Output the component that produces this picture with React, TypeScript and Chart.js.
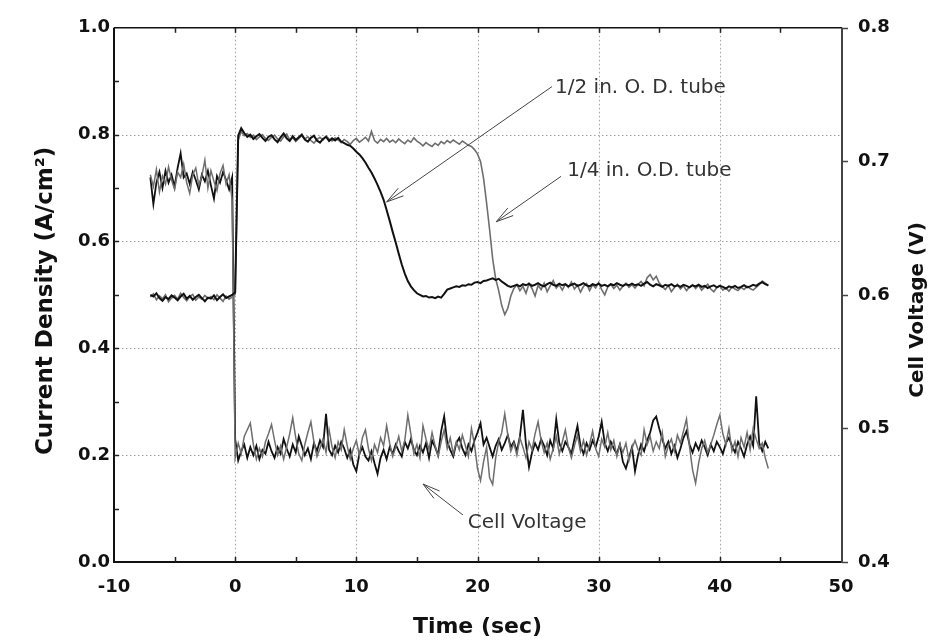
import React, { useEffect, useRef } from "react";
import { Chart, registerables } from "chart.js";

Chart.register(...registerables);

// sampling grid of the recorded traces (seconds)
const TIME_START = -7;
const TIME_STEP = 0.25;

// Current density, 1/2 in. O.D. tube (A/cm2) – black
const currentHalfInch = [
  0.500, 0.497, 0.503, 0.494, 0.489, 0.496, 0.492, 0.499, 0.495, 0.490,
  0.497, 0.502, 0.493, 0.498, 0.491, 0.496, 0.500, 0.494, 0.488, 0.495,
  0.493, 0.499, 0.490, 0.496, 0.501, 0.494, 0.497, 0.500, 0.505, 0.798,
  0.812, 0.803, 0.796, 0.800, 0.792, 0.797, 0.801, 0.794, 0.788, 0.796,
  0.799, 0.791, 0.786, 0.795, 0.802, 0.793, 0.788, 0.797, 0.790, 0.795,
  0.800, 0.791, 0.787, 0.794, 0.798, 0.789, 0.785, 0.792, 0.796, 0.788,
  0.793, 0.789, 0.794, 0.787, 0.784, 0.781, 0.779, 0.774, 0.768, 0.763,
  0.756, 0.748, 0.738, 0.729, 0.718, 0.706, 0.693, 0.678, 0.659, 0.639,
  0.618, 0.598, 0.577, 0.557, 0.540, 0.526, 0.516, 0.509, 0.503, 0.500,
  0.497, 0.498, 0.495, 0.496, 0.494, 0.497, 0.495, 0.502, 0.510, 0.512,
  0.514, 0.516, 0.515, 0.518, 0.517, 0.520, 0.519, 0.523, 0.524, 0.522,
  0.526, 0.527, 0.529, 0.531, 0.528, 0.530, 0.525, 0.521, 0.517, 0.515,
  0.517, 0.519, 0.516, 0.520, 0.518, 0.521, 0.517, 0.519, 0.522, 0.518,
  0.516, 0.520, 0.523, 0.519, 0.517, 0.521, 0.518, 0.520, 0.516, 0.519,
  0.521, 0.517, 0.519, 0.522, 0.518, 0.516, 0.520, 0.518, 0.521, 0.517,
  0.519, 0.516, 0.520, 0.518, 0.522, 0.519, 0.517, 0.520, 0.518, 0.521,
  0.518, 0.520, 0.517, 0.521, 0.524, 0.519, 0.516, 0.520, 0.518, 0.515,
  0.519, 0.517, 0.520, 0.516, 0.518, 0.515, 0.519, 0.517, 0.514, 0.518,
  0.516, 0.519, 0.515, 0.517, 0.513, 0.516, 0.518, 0.514, 0.517, 0.515,
  0.512, 0.516, 0.514, 0.517, 0.513, 0.515, 0.518, 0.514, 0.516, 0.519,
  0.517, 0.521, 0.524, 0.520, 0.518,
];

// Current density, 1/4 in. O.D. tube (A/cm2) – gray
const currentQuarterInch = [
  0.496, 0.502, 0.491, 0.498, 0.493, 0.500, 0.487, 0.494, 0.499, 0.492,
  0.503, 0.495, 0.489, 0.497, 0.501, 0.490, 0.496, 0.492, 0.499, 0.493,
  0.497, 0.491, 0.500, 0.494, 0.488, 0.498, 0.492, 0.496, 0.501, 0.790,
  0.806, 0.798, 0.802, 0.795, 0.799, 0.791, 0.796, 0.800, 0.793, 0.789,
  0.795, 0.799, 0.792, 0.788, 0.796, 0.801, 0.790, 0.794, 0.787, 0.793,
  0.798, 0.792, 0.796, 0.789, 0.784, 0.791, 0.795, 0.790, 0.797, 0.792,
  0.788, 0.794, 0.790, 0.785, 0.791, 0.787, 0.782, 0.789, 0.793, 0.786,
  0.790, 0.795, 0.788, 0.806, 0.789, 0.784, 0.791, 0.787, 0.793, 0.786,
  0.790, 0.785, 0.792, 0.787, 0.783, 0.790, 0.786, 0.794, 0.788, 0.784,
  0.779, 0.785, 0.781, 0.778, 0.784, 0.780, 0.787, 0.783, 0.789, 0.785,
  0.790, 0.786, 0.782, 0.788, 0.784, 0.780, 0.778, 0.772, 0.764, 0.750,
  0.718, 0.672, 0.622, 0.568, 0.530, 0.508, 0.480, 0.463, 0.475, 0.498,
  0.512, 0.519, 0.508, 0.516, 0.503, 0.521, 0.512, 0.498, 0.518, 0.510,
  0.522, 0.506, 0.517, 0.527, 0.513, 0.519, 0.509, 0.520, 0.514, 0.524,
  0.511, 0.518, 0.505, 0.516, 0.521, 0.508, 0.519, 0.513, 0.523, 0.510,
  0.500, 0.515, 0.520, 0.512, 0.518, 0.509, 0.516, 0.522, 0.514, 0.519,
  0.513, 0.520, 0.525, 0.517, 0.532, 0.538, 0.528, 0.535, 0.522, 0.516,
  0.510, 0.518, 0.506, 0.514, 0.520, 0.511, 0.517, 0.508, 0.515, 0.519,
  0.512, 0.518, 0.509, 0.515, 0.520, 0.511, 0.506, 0.514, 0.517, 0.509,
  0.513, 0.507, 0.515, 0.511, 0.508, 0.514, 0.510, 0.516, 0.512, 0.509,
  0.514, 0.519, 0.526, 0.522, 0.517,
];

// Cell voltage (V) – black trace
const voltageBlack = [
  0.688, 0.668, 0.684, 0.692, 0.680, 0.693, 0.684, 0.690, 0.681, 0.695,
  0.706, 0.688, 0.691, 0.683, 0.692, 0.686, 0.679, 0.690, 0.685, 0.693,
  0.682, 0.672, 0.689, 0.684, 0.692, 0.686, 0.679, 0.688, 0.492, 0.476,
  0.483, 0.488, 0.478, 0.486, 0.480, 0.487, 0.477, 0.484, 0.481, 0.490,
  0.483, 0.478, 0.486, 0.481, 0.492, 0.485, 0.479, 0.488, 0.482, 0.494,
  0.487, 0.480, 0.485, 0.477, 0.489, 0.483, 0.491, 0.486, 0.511, 0.484,
  0.480, 0.487, 0.482, 0.490, 0.485, 0.478, 0.484, 0.473, 0.468, 0.481,
  0.486, 0.479, 0.476, 0.483, 0.474, 0.466, 0.478, 0.484, 0.477, 0.486,
  0.481, 0.488, 0.483, 0.479, 0.490, 0.485, 0.492, 0.484, 0.480, 0.487,
  0.482, 0.489, 0.478, 0.491, 0.486, 0.480, 0.498, 0.509, 0.490, 0.484,
  0.479, 0.489, 0.493, 0.485, 0.480, 0.488, 0.483, 0.491, 0.497, 0.504,
  0.488, 0.493, 0.486, 0.479, 0.487, 0.492, 0.484, 0.489, 0.495, 0.486,
  0.490, 0.483, 0.494, 0.514, 0.488, 0.471, 0.482, 0.489, 0.484, 0.492,
  0.487, 0.480, 0.491, 0.485, 0.507, 0.489, 0.483, 0.490, 0.486, 0.481,
  0.492, 0.502, 0.487, 0.481, 0.489, 0.484, 0.491, 0.486, 0.494, 0.505,
  0.489, 0.483, 0.490, 0.485, 0.481, 0.488, 0.475, 0.470, 0.478, 0.486,
  0.468, 0.480, 0.488, 0.483, 0.491, 0.497, 0.506, 0.509, 0.500, 0.492,
  0.485, 0.490, 0.481, 0.487, 0.478, 0.485, 0.493, 0.498, 0.488, 0.482,
  0.489, 0.484, 0.491, 0.486, 0.480, 0.488, 0.483, 0.490, 0.486, 0.481,
  0.489, 0.493, 0.487, 0.482, 0.490, 0.485, 0.479, 0.488, 0.494, 0.487,
  0.524, 0.489, 0.483, 0.490, 0.485,
];

// Cell voltage (V) – gray trace
const voltageGray = [
  0.690, 0.681, 0.694, 0.677, 0.689, 0.683, 0.696, 0.686, 0.679, 0.692,
  0.688, 0.698, 0.684, 0.676, 0.690, 0.695, 0.682, 0.689, 0.701, 0.680,
  0.693, 0.685, 0.678, 0.691, 0.697, 0.683, 0.690, 0.671, 0.478, 0.489,
  0.481, 0.494, 0.499, 0.504, 0.488, 0.477, 0.485, 0.479, 0.490, 0.496,
  0.503, 0.491, 0.480, 0.487, 0.477, 0.486, 0.496, 0.508, 0.493, 0.481,
  0.476, 0.488, 0.497, 0.505, 0.490, 0.479, 0.485, 0.492, 0.482, 0.499,
  0.486, 0.478, 0.490, 0.484, 0.499, 0.487, 0.477, 0.485, 0.491, 0.480,
  0.493, 0.499, 0.485, 0.476, 0.488, 0.482, 0.493, 0.487, 0.502, 0.489,
  0.479, 0.486, 0.494, 0.483, 0.491, 0.510, 0.496, 0.481, 0.488, 0.478,
  0.502, 0.492, 0.484, 0.497, 0.487, 0.479, 0.490, 0.499, 0.485, 0.493,
  0.481, 0.490, 0.484, 0.495, 0.487, 0.479, 0.500, 0.488, 0.470, 0.461,
  0.475, 0.486, 0.463, 0.458, 0.478, 0.490, 0.497, 0.511, 0.495, 0.483,
  0.489, 0.480, 0.493, 0.486, 0.478, 0.490, 0.484, 0.496, 0.505, 0.491,
  0.482, 0.489, 0.477, 0.485, 0.494, 0.481, 0.490, 0.499, 0.486, 0.478,
  0.487, 0.495, 0.483, 0.491, 0.480, 0.488, 0.498, 0.485, 0.479, 0.492,
  0.486, 0.497, 0.484, 0.491, 0.479, 0.488, 0.482, 0.489, 0.476, 0.485,
  0.491, 0.484, 0.480, 0.499, 0.488, 0.494, 0.483, 0.490, 0.485, 0.497,
  0.479, 0.487, 0.492, 0.483, 0.495, 0.489, 0.498, 0.507, 0.486, 0.469,
  0.459, 0.474, 0.485, 0.491, 0.482, 0.488, 0.495, 0.503, 0.510, 0.496,
  0.488, 0.500, 0.483, 0.490, 0.479, 0.493, 0.486, 0.497, 0.484, 0.500,
  0.492, 0.485, 0.489, 0.478, 0.470,
];

// axis furniture
const xGridValues = [0, 10, 20, 30, 40];
const yGridValues = [0.2, 0.4, 0.6, 0.8];
const xMinorTicks = [-5, 0, 5, 10, 15, 20, 25, 30, 35, 40, 45];
const yMinorTicks = [0.1, 0.2, 0.3, 0.4, 0.5, 0.6, 0.7, 0.8, 0.9];
const y1Ticks = [0.4, 0.5, 0.6, 0.7, 0.8];

const xTitle = "Time (sec)";
const yTitle = "Current Density (A/cm²)";
const y1Title = "Cell Voltage (V)";

// callouts (positions in data units of x / left y axis)
const calloutLabels = ["1/2 in. O. D. tube", "1/4 in. O.D. tube", "Cell Voltage"];
const calloutTextX = [26.4, 27.4, 19.2];
const calloutTextY = [0.888, 0.732, 0.073];
const calloutFromX = [26.15, 26.9, 18.8];
const calloutFromY = [0.89, 0.722, 0.088];
const calloutToX = [12.5, 21.55, 15.5];
const calloutToY = [0.674, 0.637, 0.146];

const toPoints = (vals: number[]) =>
  vals.map((v, i) => ({ x: TIME_START + i * TIME_STEP, y: v }));

const TICK_FONT = { family: "'DejaVu Sans'", size: 18, weight: "bold" as const };

const furniture = {
  id: "furniture",
  beforeDatasetsDraw(chart: any) {
    const { ctx, chartArea: a, scales } = chart;
    const xs = scales.x, ys = scales.y;
    ctx.save();
    ctx.strokeStyle = "#a0a0a0";
    ctx.lineWidth = 1;
    ctx.setLineDash([1.5, 2.5]);
    for (const v of xGridValues) {
      const px = Math.round(xs.getPixelForValue(v)) + 0.5;
      ctx.beginPath(); ctx.moveTo(px, a.top); ctx.lineTo(px, a.bottom); ctx.stroke();
    }
    for (const v of yGridValues) {
      const py = Math.round(ys.getPixelForValue(v)) + 0.5;
      ctx.beginPath(); ctx.moveTo(a.left, py); ctx.lineTo(a.right, py); ctx.stroke();
    }
    ctx.restore();
  },
  afterDatasetsDraw(chart: any) {
    const { ctx, chartArea: a, scales } = chart;
    const xs = scales.x, ys = scales.y, y1 = scales.y1;
    ctx.save();
    ctx.setLineDash([]);
    // frame
    ctx.strokeStyle = "#111";
    ctx.lineWidth = 2;
    ctx.beginPath();
    ctx.moveTo(a.right + 1, a.bottom); ctx.lineTo(a.left, a.bottom); ctx.lineTo(a.left, a.top);
    ctx.stroke();
    ctx.lineWidth = 1.5;
    ctx.beginPath(); ctx.moveTo(a.left, a.top); ctx.lineTo(a.right + 1, a.top); ctx.stroke();
    ctx.strokeStyle = "#444";
    ctx.lineWidth = 2;
    ctx.beginPath(); ctx.moveTo(a.right + 1, a.top); ctx.lineTo(a.right + 1, a.bottom + 1); ctx.stroke();
    // ticks
    ctx.strokeStyle = "#222";
    ctx.lineWidth = 1.5;
    for (const v of xMinorTicks) {
      const px = Math.round(xs.getPixelForValue(v)) + 0.5;
      ctx.beginPath(); ctx.moveTo(px, a.bottom); ctx.lineTo(px, a.bottom - 5); ctx.stroke();
      ctx.beginPath(); ctx.moveTo(px, a.top); ctx.lineTo(px, a.top + 5); ctx.stroke();
    }
    for (const v of yMinorTicks) {
      const py = Math.round(ys.getPixelForValue(v)) + 0.5;
      ctx.beginPath(); ctx.moveTo(a.left, py); ctx.lineTo(a.left + 5, py); ctx.stroke();
    }
    ctx.strokeStyle = "#444";
    for (const v of y1Ticks) {
      const py = Math.round(y1.getPixelForValue(v)) + 0.5;
      ctx.beginPath(); ctx.moveTo(a.right + 1, py); ctx.lineTo(a.right + 7, py); ctx.stroke();
    }
    // callouts
    ctx.font = "20px 'DejaVu Sans'";
    ctx.fillStyle = "#333";
    ctx.strokeStyle = "#444";
    ctx.lineWidth = 1;
    ctx.textBaseline = "middle";
    ctx.textAlign = "left";
    calloutLabels.forEach((label, i) => {
      ctx.fillText(label, xs.getPixelForValue(calloutTextX[i]), ys.getPixelForValue(calloutTextY[i]));
      const x0 = xs.getPixelForValue(calloutFromX[i]);
      const y0 = ys.getPixelForValue(calloutFromY[i]);
      const x1 = xs.getPixelForValue(calloutToX[i]);
      const y1p = ys.getPixelForValue(calloutToY[i]);
      ctx.beginPath(); ctx.moveTo(x0, y0); ctx.lineTo(x1, y1p); ctx.stroke();
      const ang = Math.atan2(y0 - y1p, x0 - x1);
      const len = 18, spread = 0.26;
      ctx.beginPath();
      ctx.moveTo(x1 + len * Math.cos(ang + spread), y1p + len * Math.sin(ang + spread));
      ctx.lineTo(x1, y1p);
      ctx.lineTo(x1 + len * Math.cos(ang - spread), y1p + len * Math.sin(ang - spread));
      ctx.stroke();
    });
    // axis titles
    ctx.fillStyle = "#111";
    ctx.font = "bold 22px 'DejaVu Sans'";
    ctx.textAlign = "center";
    ctx.textBaseline = "middle";
    ctx.fillText(xTitle, (a.left + a.right) / 2, 627);
    ctx.save();
    ctx.font = "bold 23px 'DejaVu Sans'";
    ctx.translate(46, (a.top + a.bottom) / 2 + 6);
    ctx.rotate(-Math.PI / 2);
    ctx.fillText(yTitle, 0, 0);
    ctx.restore();
    ctx.save();
    ctx.font = "bold 20px 'DejaVu Sans'";
    ctx.translate(918, 310);
    ctx.rotate(-Math.PI / 2);
    ctx.fillText(y1Title, 0, 0);
    ctx.restore();
    ctx.restore();
  },
};

export default function App() {
  const ref = useRef<HTMLCanvasElement | null>(null);
  useEffect(() => {
    if (!ref.current) return;
    const chart = new Chart(ref.current, {
      type: "line",
      data: {
        datasets: [
          { label: "1/2 in. current", data: toPoints(currentHalfInch), borderColor: "#111", borderWidth: 2, yAxisID: "y", order: 1 },
          { label: "1/4 in. current", data: toPoints(currentQuarterInch), borderColor: "#6e6e6e", borderWidth: 1.6, yAxisID: "y", order: 2 },
          { label: "voltage black", data: toPoints(voltageBlack), borderColor: "#111", borderWidth: 1.8, yAxisID: "y1", order: 4 },
          { label: "voltage gray", data: toPoints(voltageGray), borderColor: "#6e6e6e", borderWidth: 1.5, yAxisID: "y1", order: 3 },
        ].map((d) => ({ ...d, pointRadius: 0, tension: 0, fill: false })),
      },
      options: {
        responsive: false,
        animation: false,
        devicePixelRatio: 1,
        layout: { padding: { top: 19, left: 0, right: 0, bottom: 0 } },
        plugins: { legend: { display: false }, tooltip: { enabled: false } },
        scales: {
          x: {
            type: "linear", min: -10, max: 50,
            ticks: { stepSize: 10, font: TICK_FONT, color: "#111", padding: 15, maxRotation: 0, autoSkip: false },
            grid: { display: false, drawTicks: false },
            border: { display: false },
            afterFit: (s: any) => { s.height = 81; },
          },
          y: {
            type: "linear", position: "left", min: 0, max: 1,
            ticks: { stepSize: 0.2, font: TICK_FONT, color: "#111", padding: 4, callback: (v: any) => Number(v).toFixed(1) },
            grid: { display: false, drawTicks: false },
            border: { display: false },
            afterFit: (s: any) => { s.width = 114; },
          },
          y1: {
            type: "linear", position: "right", min: 0.4, max: 0.8,
            ticks: { stepSize: 0.1, font: TICK_FONT, color: "#111", padding: 17, callback: (v: any) => Number(v).toFixed(1) },
            grid: { display: false, drawTicks: false },
            border: { display: false },
            afterFit: (s: any) => { s.width = 93; },
          },
        },
      },
      plugins: [furniture],
    });
    return () => chart.destroy();
  }, []);
  return (
    <div style={{ position: "absolute", left: 0, top: 0, width: 934, height: 643, background: "#fff" }}>
      <canvas ref={ref} width={934} height={643} style={{ display: "block" }} />
    </div>
  );
}
